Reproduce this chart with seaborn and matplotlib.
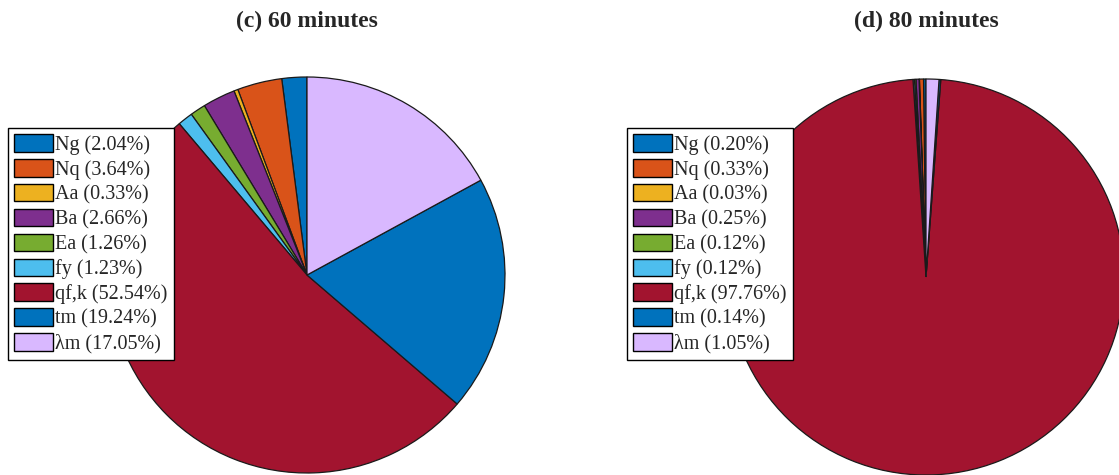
import matplotlib
matplotlib.use("Agg")
import matplotlib.pyplot as plt
import seaborn as sns

# Pie data
names = ['Ng', 'Nq', 'Aa', 'Ba', 'Ea', 'fy', 'qf,k', 'tm', 'λm']
share_60 = [2.04, 3.64, 0.33, 2.66, 1.26, 1.23, 52.54, 19.24, 17.05]
share_80 = [0.20, 0.33, 0.03, 0.25, 0.12, 0.12, 97.76, 0.14, 1.05]
titles = ['(c) 60 minutes', '(d) 80 minutes']

colors = ['#0072BD', '#D95319', '#EDB120', '#7E2F8E', '#77AC30',
          '#4DBEEE', '#A2142F', '#0072BD', '#D9B8FF']

sns.set_theme(style='white')
plt.rcParams['font.family'] = ['Liberation Serif', 'DejaVu Serif']

W, H = 1119, 475
fig = plt.figure(figsize=(W / 100, H / 100), dpi=100)
fig.patch.set_facecolor('white')

R = 198
panels = [
    (share_60, titles[0], (307, 275), (8, 128)),
    (share_80, titles[1], (926, 277), (627, 128)),
]

for values, title, (cx, cy), (lx, ly) in panels:
    ax = fig.add_axes([(cx - R) / W, (H - cy - R) / H, 2 * R / W, 2 * R / H])
    wedges, _ = ax.pie(values, colors=colors, startangle=90, counterclock=True,
                       radius=1, normalize=True,
                       wedgeprops=dict(edgecolor='#1a1a1a', linewidth=0.9))
    ax.set_xlim(-1, 1)
    ax.set_ylim(-1, 1)
    ax.set_aspect('equal')
    ax.axis('off')

    labels = [f'{n} ({v:.2f}%)' for n, v in zip(names, values)]
    leg = ax.legend(wedges, labels, loc='upper left',
                    bbox_to_anchor=(lx / W, 1 - ly / H),
                    bbox_transform=fig.transFigure,
                    fontsize=14.5, frameon=True, fancybox=False,
                    edgecolor='black', framealpha=1,
                    handlelength=1.9, handleheight=0.95,
                    handletextpad=0.1, labelspacing=0.21,
                    borderpad=0.32, borderaxespad=0)
    leg.get_frame().set_linewidth(1.0)
    for h in leg.legend_handles:
        h.set_edgecolor('black')
        h.set_linewidth(1.0)

    fig.text(cx / W, 1 - 21 / H, title, ha='center', va='center',
             fontsize=17, fontweight='bold')

fig.savefig('out.png', dpi=100, facecolor='white')
